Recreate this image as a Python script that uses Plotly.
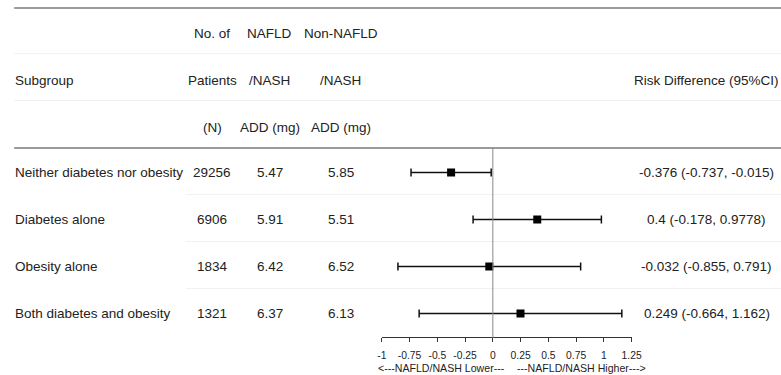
import plotly.graph_objects as go

subgroups = ["Neither diabetes nor obesity", "Diabetes alone", "Obesity alone", "Both diabetes and obesity"]
n_patients = ["29256", "6906", "1834", "1321"]
nafld_add = ["5.47", "5.91", "6.42", "6.37"]
non_nafld_add = ["5.85", "5.51", "6.52", "6.13"]
risk_diff = [-0.376, 0.4, -0.032, 0.249]
ci_low = [-0.737, -0.178, -0.855, -0.664]
ci_high = [-0.015, 0.9778, 0.791, 1.162]
rd_labels = ["-0.376 (-0.737, -0.015)", "0.4 (-0.178, 0.9778)", "-0.032 (-0.855, 0.791)", "0.249 (-0.664, 1.162)"]
tick_vals = [-1, -0.75, -0.5, -0.25, 0, 0.25, 0.5, 0.75, 1, 1.25]
tick_text = ["-1", "-0.75", "-0.5", "-0.25", "0", "0.25", "0.5", "0.75", "1", "1.25"]
header_rows = [
    ["", "No. of", "NAFLD", "Non-NAFLD", ""],
    ["Subgroup", "Patients", "/NASH", "/NASH", "Risk Difference (95%CI)"],
    ["", "(N)", "ADD (mg)", "ADD (mg)", ""],
]

# page geometry
W, H = 792, 375
FONT = "Liberation Sans, Arial, sans-serif"
TXT = "#222222"


def px(X):
    """horizontal position in the photographed picture -> paper fraction"""
    return ((X - 3.8) / 0.982) / W


rows = list(range(len(subgroups)))

fig = go.Figure()
fig.add_trace(go.Scatter(
    x=risk_diff, y=rows, mode="markers",
    marker=dict(symbol="square", size=8, color="black"),
    error_x=dict(type="data", symmetric=False,
                 array=[h - r for h, r in zip(ci_high, risk_diff)],
                 arrayminus=[r - l for l, r in zip(ci_low, risk_diff)],
                 color="#111111", thickness=1.5, width=4),
    showlegend=False, hoverinfo="skip", cliponaxis=False,
))

# vertical geometry: row index -> pixel y = 8 + (idx + 3.5) * 47
step = 47.0
top_px = 8.0
y_top = -3.5 - top_px / step
y_bot = -3.5 + (H - top_px) / step

col_x = [px(13.5) - 2 / W, px(211), px(269), px(340), px(706)]
col_anchor = ["left", "center", "center", "center", "center"]

annotations = []
for hi, hrow in enumerate(header_rows):
    yidx = hi - 3
    for ci, t in enumerate(hrow):
        if t:
            annotations.append(dict(x=col_x[ci], y=yidx + 0.04, xref="paper", yref="y", text=t,
                                    showarrow=False, xanchor=col_anchor[ci], yanchor="middle",
                                    font=dict(family=FONT, size=13.5, color=TXT)))
for i in rows:
    vals = [subgroups[i], n_patients[i], nafld_add[i], non_nafld_add[i], rd_labels[i]]
    for ci, t in enumerate(vals):
        annotations.append(dict(x=col_x[ci], y=i, xref="paper", yref="y", text=t,
                                showarrow=False, xanchor=col_anchor[ci], yanchor="middle",
                                font=dict(family=FONT, size=13.5, color=TXT)))

annotations.append(dict(x=px(506), y=1 - 368 / H, xref="paper", yref="paper",
                        text="<---NAFLD/NASH Lower---", showarrow=False, xanchor="right", yanchor="middle",
                        font=dict(family=FONT, size=10.6, color=TXT)))
annotations.append(dict(x=px(514), y=1 - 368 / H, xref="paper", yref="paper",
                        text="---NAFLD/NASH Higher--->", showarrow=False, xanchor="left", yanchor="middle",
                        font=dict(family=FONT, size=10.6, color=TXT)))

shapes = []
# top and header-bottom rules
for yv, col, wd in [(-3.5, "#7a7a7a", 1.5), (-0.52, "#9a9a9a", 2)]:
    shapes.append(dict(type="line", xref="paper", yref="y", x0=px(13), x1=1, y0=yv, y1=yv,
                       line=dict(color=col, width=wd)))
for yv in [-2.53, -1.53]:
    shapes.append(dict(type="line", xref="paper", yref="y", x0=px(13), x1=1, y0=yv, y1=yv,
                       line=dict(color="#f0f0f0", width=1)))
for yv in [0.47, 1.47, 2.47]:
    shapes.append(dict(type="line", xref="paper", yref="y", x0=px(185), x1=1, y0=yv, y1=yv,
                       line=dict(color="#f0f0f0", width=1)))
# vertical reference line at 0
shapes.append(dict(type="line", xref="x", yref="y", x0=0, x1=0, y0=-0.52, y1=3.52,
                   line=dict(color="#8a8a8a", width=1)))

fig.update_layout(
    width=W, height=H,
    margin=dict(l=0, r=0, t=0, b=0),
    paper_bgcolor="white", plot_bgcolor="rgba(0,0,0,0)",
    xaxis=dict(domain=[px(381), px(631)], range=[-1, 1.25], anchor="free", position=1 - 337 / H,
               showgrid=False, zeroline=False, showline=True, linecolor="#333333", linewidth=1,
               ticks="outside", ticklen=4, tickcolor="#333333", tickwidth=1,
               ticklabelstandoff=5,
               tickvals=tick_vals, ticktext=tick_text,
               tickfont=dict(family=FONT, size=10.3, color=TXT), fixedrange=True),
    yaxis=dict(domain=[0, 1], range=[y_bot, y_top], visible=False, fixedrange=True),
    annotations=annotations, shapes=shapes,
    font=dict(family=FONT),
)

fig.write_html("out.html", config={"displayModeBar": False},
               post_script="document.body.style.margin='0';document.body.style.overflow='hidden';")
